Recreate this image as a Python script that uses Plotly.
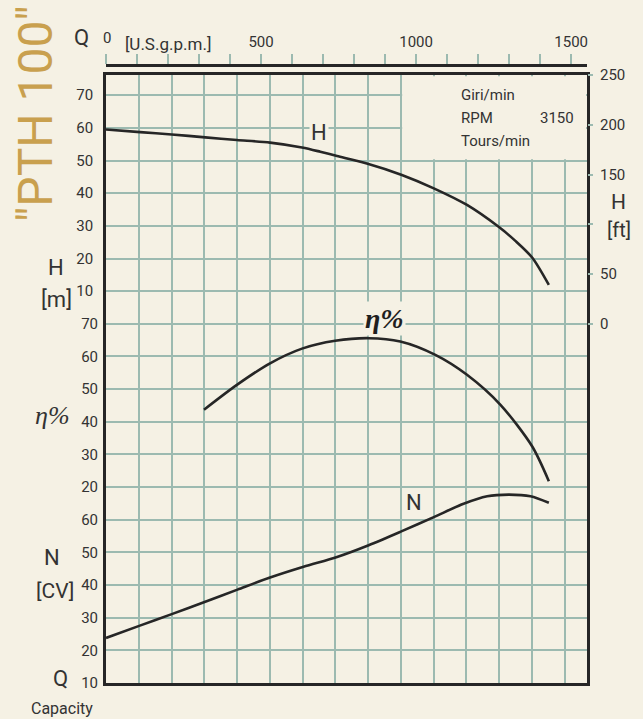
import plotly.graph_objects as go

# ---------------- data ----------------
Q_H = [0, 110, 212, 320, 422, 529, 632, 691, 745, 841, 954, 1057, 1164, 1266, 1320, 1374, 1428]
H_M = [59.5, 58.7, 58.0, 57.1, 56.3, 55.5, 54.0, 52.7, 51.4, 49.1, 45.6, 41.5, 36.4, 29.7, 25.4, 20.3, 11.9]

Q_ETA = [316, 422, 529, 632, 739, 847, 949, 1062, 1164, 1272, 1374, 1428]
ETA = [43.7, 51.3, 57.9, 62.4, 64.8, 65.6, 64.6, 60.5, 54.4, 45.2, 32.5, 21.8]

Q_N = [0, 107, 212, 320, 424, 529, 637, 745, 847, 954, 1057, 1153, 1229, 1299, 1369, 1428]
N_CV = [23.8, 27.5, 31.1, 34.9, 38.6, 42.3, 45.6, 48.6, 52.2, 56.5, 60.8, 64.9, 67.2, 67.7, 67.2, 65.2]

Q_TICKS = [0, 100, 200, 300, 400, 500, 600, 700, 800, 900, 1000, 1100, 1200, 1300, 1400, 1500]
Q_LABELS = ["", "", "", "", "", "500", "", "", "", "", "1000", "", "", "", "", "1500"]
H_TICKS = [10, 20, 30, 40, 50, 60, 70]
ETA_TICKS = [20, 30, 40, 50, 60, 70]
N_TICKS = [10, 20, 30, 40, 50, 60]
FT_TICKS = [0, 50, 100, 150, 200, 250]
FT_LABELS = ["0", "50", "", "150", "200", "250"]

# ---------------- style ----------------
BG = "#F5F1E4"
GRID = "#9CBAB0"
INK = "#262626"
TXT = "#333333"
GOLD = "#C9A04E"
FONT = "Roboto, Lato, sans-serif"
SERIF = "Liberation Serif, DejaVu Serif, serif"

W, HGT = 643, 719
ML, MR, MT, MB = 106, 56, 65, 36
PW = W - ML - MR
PH = HGT - MT - MB
YTOP = 75  # pixel top of plotting frame
Y_DOM_TOP = (HGT - MB - YTOP) / PH

Q_MAX = 1551           # gpm at right edge
GPM_TO_LPM = 3.78541
FT = 0.3048
H_MIN, H_MAX = -110, 76.2


def px(x, y):
    return (x - ML) / PW, (HGT - MB - y) / PH


fig = go.Figure()
line = dict(color=INK, width=2.6, shape="spline", smoothing=0.8)
fig.add_trace(go.Scatter(x=Q_H, y=H_M, mode="lines", line=line, xaxis="x", yaxis="y", hoverinfo="skip"))
fig.add_trace(go.Scatter(x=Q_ETA, y=ETA, mode="lines", line=line, xaxis="x", yaxis="y2", hoverinfo="skip"))
fig.add_trace(go.Scatter(x=Q_N, y=N_CV, mode="lines", line=line, xaxis="x", yaxis="y3", hoverinfo="skip"))
# same head curve expressed in l/min and feet (invisible) so the secondary scales are built
fig.add_trace(go.Scatter(x=[q * GPM_TO_LPM for q in Q_H], y=[h / FT for h in H_M], mode="lines",
                         line=dict(width=0, color=BG), opacity=0, xaxis="x2", yaxis="y4", hoverinfo="skip"))

tickfont = dict(family=FONT, size=15, color=TXT)
grid_vals = list(range(-100, 80, 10))
grid_text = [str(v) if v in H_TICKS else "" for v in grid_vals]

fig.update_layout(
    width=W, height=HGT,
    paper_bgcolor=BG, plot_bgcolor=BG,
    margin=dict(l=ML, r=MR, t=MT, b=MB),
    showlegend=False,
    xaxis=dict(
        range=[0, Q_MAX], side="top", anchor="free", position=1,
        tickmode="array", tickvals=Q_TICKS, ticktext=Q_LABELS,
        ticks="outside", ticklen=10, tickwidth=2, tickcolor=GRID,
        showline=True, linecolor=INK, linewidth=2.6,
        showgrid=False, zeroline=False, tickfont=tickfont, ticklabelstandoff=1,
    ),
    xaxis2=dict(
        range=[0, Q_MAX * GPM_TO_LPM], overlaying="x", anchor="y", side="bottom",
        tickmode="linear", tick0=0, dtick=400, showticklabels=False, ticks="",
        showgrid=True, gridcolor=GRID, gridwidth=1.8, zeroline=False,
        showline=True, mirror=True, linecolor=INK, linewidth=2.6,
    ),
    yaxis=dict(
        range=[H_MIN, H_MAX], domain=[0, Y_DOM_TOP], anchor="x2",
        tickmode="array", tickvals=grid_vals, ticktext=grid_text,
        showgrid=True, gridcolor=GRID, gridwidth=1.8, zeroline=False,
        showline=True, mirror=True, linecolor=INK, linewidth=2.6,
        ticks="", tickfont=tickfont, ticklabelstandoff=7,
    ),
    yaxis2=dict(
        range=[H_MIN + 70, H_MAX + 70], overlaying="y", anchor="x2", side="left",
        tickmode="array", tickvals=ETA_TICKS, ticktext=[str(v) for v in ETA_TICKS],
        showgrid=False, zeroline=False, showline=False, ticks="",
        tickfont=tickfont, ticklabelstandoff=7,
    ),
    yaxis3=dict(
        range=[H_MIN + 120, H_MAX + 120], overlaying="y", anchor="x2", side="left",
        tickmode="array", tickvals=N_TICKS, ticktext=[str(v) for v in N_TICKS],
        showgrid=False, zeroline=False, showline=False, ticks="",
        tickfont=tickfont, ticklabelstandoff=7,
    ),
    yaxis4=dict(
        range=[H_MIN / FT, H_MAX / FT], overlaying="y", anchor="x2", side="right",
        tickmode="array", tickvals=FT_TICKS, ticktext=FT_LABELS,
        showgrid=False, zeroline=False, showline=False,
        ticks="outside", ticklen=5, tickwidth=2, tickcolor=GRID,
        tickfont=tickfont, ticklabelstandoff=4,
    ),
)

# blank box (top right, no grid) – from the 3600 l/min line to the right frame, above H = 50 m
fig.add_shape(type="rect", xref="x", yref="y", x0=3600 / GPM_TO_LPM + 4, x1=Q_MAX - 3,
              y0=50.4, y1=H_MAX - 0.4, fillcolor=BG, line=dict(width=0), layer="between")


def ann(text, x, y, size, color=TXT, family=FONT, bg=None, angle=0, xanchor="center"):
    ax, ay = px(x, y)
    d = dict(text=text, x=ax, y=ay, xref="paper", yref="paper", showarrow=False,
             xanchor=xanchor, yanchor="middle",
             font=dict(family=family, size=size, color=color), textangle=angle)
    if bg:
        d["bgcolor"] = bg
    fig.add_annotation(**d)


ann('"PTH 100"', 35, 114, 48, color=GOLD, angle=-90)
ann("Q", 81, 37, 22)
ann("0", 107, 38, 15)
ann("[U.S.g.p.m.]", 168, 44, 17)
ann("H", 56, 267, 22)
ann("[m]", 56, 299, 22)
ann("<i>η%</i>", 52, 415, 26, family=SERIF)
ann("N", 52, 557, 22)
ann("[CV]", 55, 591, 21)
ann("Q", 60, 678, 22)
ann("Capacity", 62, 708, 16)
ann("H", 618, 202, 21)
ann("[ft]", 619, 230, 20)

# rpm block
ann("Giri/min", 459, 95, 15, xanchor="left")
ann("RPM", 459, 118, 15, xanchor="left")
ann("Tours/min", 459, 141, 15, xanchor="left")
ann("3150", 576, 118, 15, xanchor="right")

# curve labels
ann("H", 319, 132, 22, bg=BG)
ann("<b><i>η%</i></b>", 384, 318, 28, family=SERIF, color="#1f1f1f", bg=BG)
ann("N", 414, 502, 22, bg=BG)

fig.write_html("out.html", config={"displayModeBar": False},
               post_script="document.body.style.margin='0px';")
